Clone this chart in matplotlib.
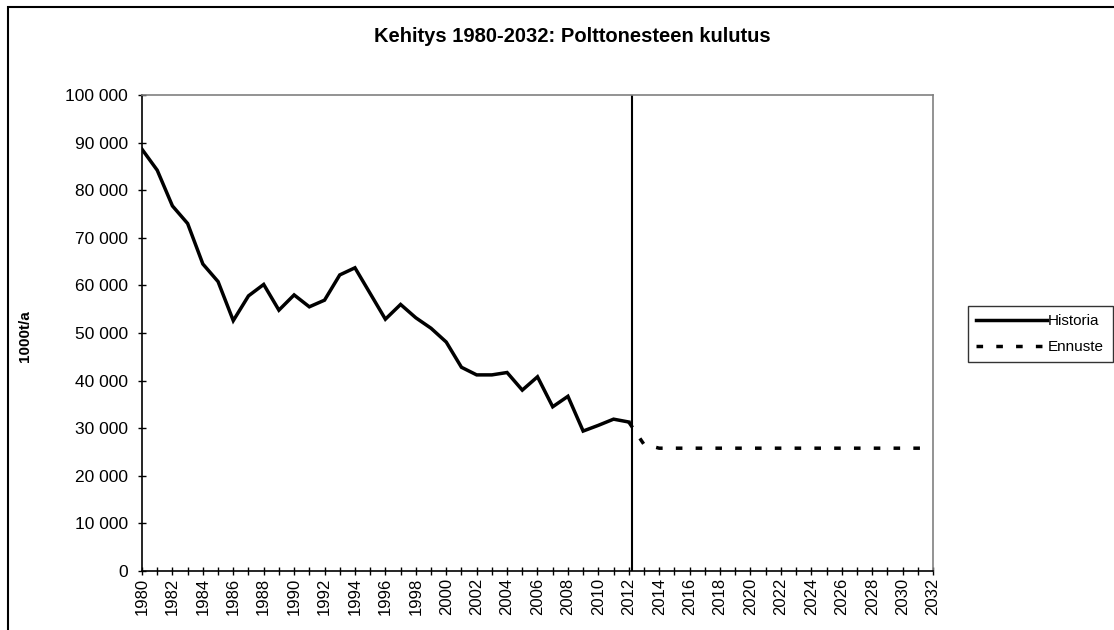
import matplotlib
matplotlib.use("Agg")
import matplotlib.pyplot as plt
from matplotlib.patches import Rectangle
from matplotlib.ticker import FuncFormatter, MultipleLocator

plt.rcParams['font.family'] = ['Liberation Sans', 'DejaVu Sans']

# Data
years_hist = list(range(1980, 2013))
historia = [88600, 84200, 76700, 73000, 64500, 60800, 52600, 57800, 60200, 54800,
            58000, 55500, 56900, 62200, 63700, 58300, 52900, 56000, 53200, 51000,
            48100, 42800, 41200, 41200, 41700, 38000, 40800, 34500, 36700, 29400,
            30600, 31900, 31300]

years_fc = list(range(2012, 2033))
ennuste = [31300, 26600, 25800, 25800, 25800, 25800, 25800, 25800, 25800, 25800,
           25800, 25800, 25800, 25800, 25800, 25800, 25800, 25800, 25800, 25800,
           25800]

title = "Kehitys 1980-2032: Polttonesteen kulutus"
ylabel = "1000t/a"
split_year = 2012.2

fig = plt.figure(figsize=(11.14, 6.3), dpi=100)
ax = fig.add_axes([142 / 1114, 1 - 571 / 630, (933 - 142) / 1114, (571 - 95) / 630])

ax.plot(years_hist, historia, color='black', lw=2.5, solid_joinstyle='miter',
        label='Historia')
ax.plot(years_fc, ennuste, color='black', lw=2.5, dashes=(1.9, 3.8),
        label='Ennuste')
ax.axvline(split_year, color='black', lw=1.5)

ax.set_xlim(1980, 2032)
ax.set_ylim(0, 100000)

ax.xaxis.set_major_locator(MultipleLocator(2))
ax.xaxis.set_minor_locator(MultipleLocator(1))
ax.yaxis.set_major_locator(MultipleLocator(10000))
ax.yaxis.set_major_formatter(FuncFormatter(lambda v, p: f"{int(v):,}".replace(",", " ")))
ax.xaxis.set_major_formatter(FuncFormatter(lambda v, p: f"{int(v)}"))

ax.tick_params(axis='both', which='both', direction='inout', color='black', width=1)
ax.tick_params(axis='x', which='major', length=6, labelsize=12, labelrotation=90, pad=2)
ax.tick_params(axis='x', which='minor', length=6)
ax.tick_params(axis='y', which='major', length=6, labelsize=12.5, pad=7)

for s in ['left', 'bottom']:
    ax.spines[s].set_color('black')
    ax.spines[s].set_linewidth(1.2)
for s in ['top', 'right']:
    ax.spines[s].set_color('#808080')
    ax.spines[s].set_linewidth(1.2)

fig.text(572 / 1114, 1 - 37 / 630, title, ha='center', va='center',
         fontsize=14.5, fontweight='bold')
fig.text(25 / 1114, 1 - 336 / 630, ylabel, ha='center', va='center',
         rotation=90, fontsize=11, fontweight='bold')

leg = fig.legend(loc='upper left', bbox_to_anchor=(968 / 1114, 1 - 306 / 630),
                 frameon=True, fancybox=False, fontsize=11, handlelength=4.6,
                 handletextpad=0.1, borderpad=0.55, labelspacing=0.75,
                 borderaxespad=0)
leg.get_frame().set_edgecolor('black')
leg.get_frame().set_linewidth(1)

# outer chart border (left and top edges visible)
fig.patches.append(Rectangle((8 / 1114, -0.1), 1.2, 1 - 7 / 630 + 0.1,
                             transform=fig.transFigure, fill=False,
                             edgecolor='black', lw=1.5))

fig.savefig('out.png', dpi=100)
